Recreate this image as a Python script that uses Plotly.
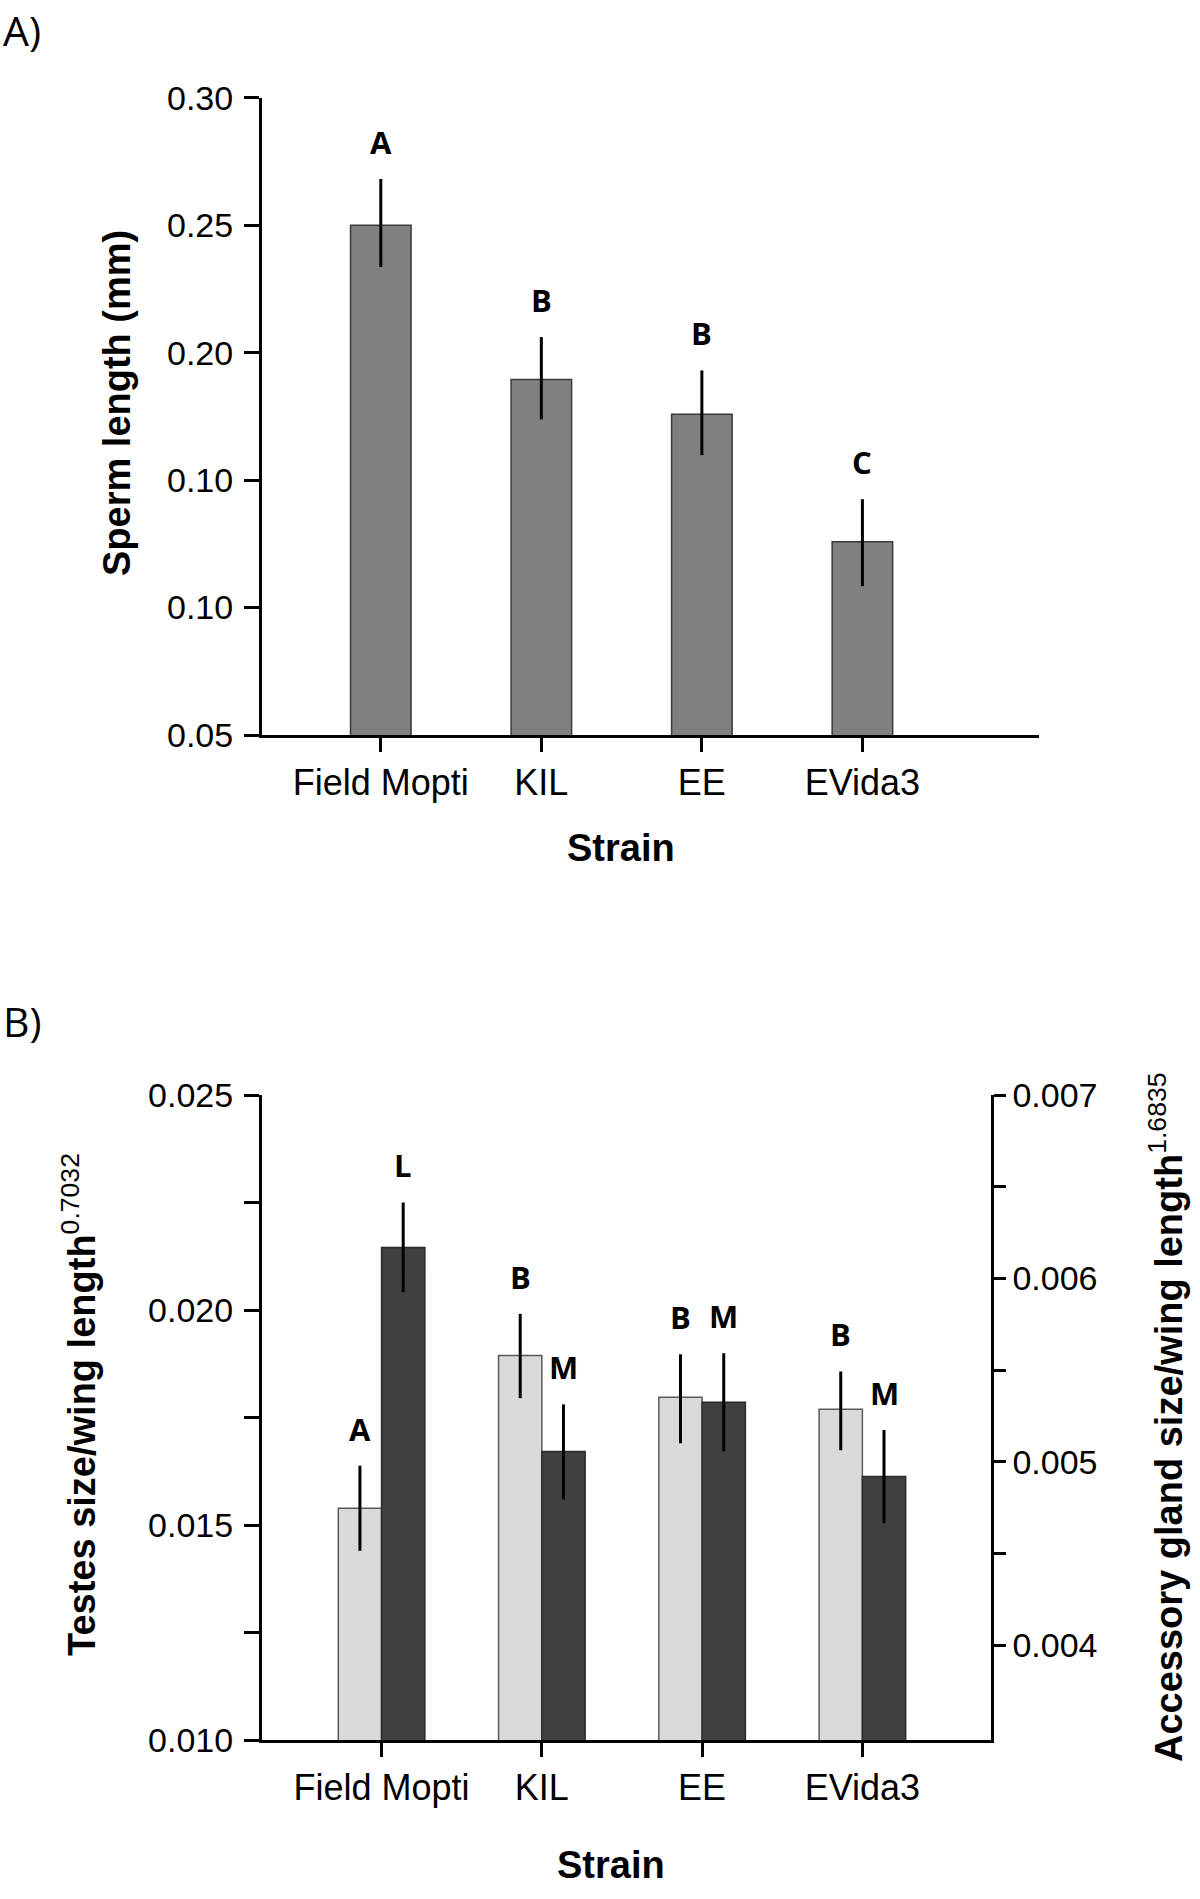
import plotly.graph_objects as go

# ---------------- data ----------------
strains = ["Field Mopti", "KIL", "EE", "EVida3"]

sperm_mean = [0.2500, 0.1895, 0.1758, 0.1258]
sperm_upper = [0.2681, 0.2061, 0.1930, 0.1425]
sperm_lower = [0.2336, 0.1738, 0.1598, 0.1084]
sperm_letters = ["A", "B", "B", "C"]
sperm_tickvals = [0.05, 0.10, 0.15, 0.20, 0.25, 0.30]
sperm_ticktext = ["0.05", "0.10", "0.10", "0.20", "0.25", "0.30"]

testes_mean = [0.01539, 0.01894, 0.01797, 0.01769]
testes_upper = [0.01638, 0.01991, 0.01897, 0.01857]
testes_lower = [0.01440, 0.01795, 0.01690, 0.01674]
testes_letters = ["A", "B", "B", "B"]
testes_tickvals = [0.010, 0.015, 0.020, 0.025]
testes_ticktext = ["0.010", "0.015", "0.020", "0.025"]
testes_minor_tickvals = [0.0125, 0.0175, 0.0225]

gland_mean = [0.006169, 0.005056, 0.005325, 0.004920]
gland_upper = [0.006414, 0.005313, 0.005592, 0.005174]
gland_lower = [0.005925, 0.004795, 0.005057, 0.004665]
gland_letters = ["L", "M", "M", "M"]
gland_tickvals = [0.004, 0.005, 0.006, 0.007]
gland_ticktext = ["0.004", "0.005", "0.006", "0.007"]
gland_minor_tickvals = [0.0045, 0.0055, 0.0065]

# ---------------- style ----------------
W, H = 1200, 1899
TICK_FONT = dict(family="Liberation Sans, Arial, sans-serif", size=34, color="black")
XTICK_FONT = dict(family="Liberation Sans, Arial, sans-serif", size=36, color="black")
TITLE_FONT = dict(family="Liberation Sans, Arial, sans-serif", size=38, color="black", weight="bold")
LETTER_FONT = dict(family="Open Sans, sans-serif", size=31, color="black", weight="bold")
PANEL_FONT = dict(family="Open Sans, sans-serif", size=41, color="black")
BAR_W_A = 0.377
BAR_W_B = 0.27
LETTER_SHIFT = 37

def px_x(p):
    return p / W

def px_y(p):
    return (H - p) / H

pos = list(range(len(strains)))

def err(upper, mean):
    return [u - m for u, m in zip(upper, mean)]

def errm(lower, mean):
    return [m - l for l, m in zip(lower, mean)]

fig = go.Figure()

# Panel A
fig.add_trace(go.Bar(
    x=pos, y=sperm_mean, width=BAR_W_A, xaxis="x", yaxis="y",
    marker=dict(color="#808080", line=dict(color="#3a3a3a", width=1.5)),
    error_y=dict(type="data", symmetric=False, array=err(sperm_upper, sperm_mean),
                 arrayminus=errm(sperm_lower, sperm_mean), color="black", thickness=3, width=0),
    showlegend=False,
))

# Panel B - testes (left axis)
fig.add_trace(go.Bar(
    x=pos, y=testes_mean, width=BAR_W_B, offset=-BAR_W_B, xaxis="x2", yaxis="y2",
    marker=dict(color="#d9d9d9", line=dict(color="#5a5a5a", width=1.5)),
    error_y=dict(type="data", symmetric=False, array=err(testes_upper, testes_mean),
                 arrayminus=errm(testes_lower, testes_mean), color="black", thickness=3, width=0),
    showlegend=False,
))
# Panel B - accessory gland (right axis)
fig.add_trace(go.Bar(
    x=pos, y=gland_mean, width=BAR_W_B, offset=0, xaxis="x2", yaxis="y3",
    marker=dict(color="#404040", line=dict(color="#2a2a2a", width=1.5)),
    error_y=dict(type="data", symmetric=False, array=err(gland_upper, gland_mean),
                 arrayminus=errm(gland_lower, gland_mean), color="black", thickness=3, width=0),
    showlegend=False,
))

axis_common = dict(showline=True, linewidth=3, linecolor="black", ticks="outside",
                   tickwidth=3, tickcolor="black", showgrid=False, zeroline=False,
                   automargin=False)

fig.update_layout(
    width=W, height=H, margin=dict(l=0, r=0, t=0, b=0, pad=0, autoexpand=False),
    paper_bgcolor="white", plot_bgcolor="white",
    xaxis=dict(domain=[px_x(262), px_x(1039)], range=[-0.74, 4.10], anchor="y",
               tickvals=pos, ticktext=strains, ticklen=14, ticklabelstandoff=0,
               tickfont=XTICK_FONT, **axis_common),
    yaxis=dict(domain=[px_y(735), px_y(97.7)], range=[0.05, 0.30], anchor="x",
               tickvals=sperm_tickvals, ticktext=sperm_ticktext, ticklen=15,
               ticklabelstandoff=4, tickfont=TICK_FONT, **axis_common),
    xaxis2=dict(domain=[px_x(262), px_x(990.6)], range=[-0.746, 3.80], anchor="y2",
                tickvals=pos, ticktext=strains, ticklen=14, ticklabelstandoff=0,
                tickfont=XTICK_FONT, **axis_common),
    yaxis2=dict(domain=[px_y(1740), px_y(1095)], range=[0.010, 0.025], anchor="x2",
                tickvals=testes_tickvals, ticktext=testes_ticktext, ticklen=15,
                ticklabelstandoff=4, tickfont=TICK_FONT,
                minor=dict(tickmode="array", tickvals=testes_minor_tickvals, ticks="outside",
                           ticklen=15, tickwidth=3, tickcolor="black", showgrid=False),
                **axis_common),
    yaxis3=dict(range=[0.003483, 0.007], anchor="x2", overlaying="y2", side="right",
                tickvals=gland_tickvals, ticktext=gland_ticktext, ticklen=12,
                ticklabelstandoff=0, tickfont=TICK_FONT,
                minor=dict(tickmode="array", tickvals=gland_minor_tickvals, ticks="outside",
                           ticklen=12, tickwidth=3, tickcolor="black", showgrid=False),
                **axis_common),
)

ann = []
# significance letters
for i in pos:
    ann.append(dict(x=pos[i], y=sperm_upper[i], xref="x", yref="y", text=sperm_letters[i],
                    showarrow=False, yshift=LETTER_SHIFT, yanchor="middle", font=LETTER_FONT))
    ann.append(dict(x=pos[i] - BAR_W_B / 2, y=testes_upper[i], xref="x2", yref="y2",
                    text=testes_letters[i], showarrow=False, yshift=LETTER_SHIFT,
                    yanchor="middle", font=LETTER_FONT))
    ann.append(dict(x=pos[i] + BAR_W_B / 2, y=gland_upper[i], xref="x2", yref="y3",
                    text=gland_letters[i], showarrow=False, yshift=LETTER_SHIFT,
                    yanchor="middle", font=LETTER_FONT))

# axis titles and panel labels
ann += [
    dict(x=px_x(117), y=px_y(403), xref="paper", yref="paper", text="Sperm length (mm)",
         textangle=-90, showarrow=False, xanchor="center", yanchor="middle", font=TITLE_FONT),
    dict(x=px_x(621), y=px_y(848), xref="paper", yref="paper", text="Strain",
         showarrow=False, xanchor="center", yanchor="middle", font=TITLE_FONT),
    dict(x=px_x(79), y=px_y(1405), xref="paper", yref="paper",
         text="Testes size/wing length<sup><span style='font-weight:normal'>0.7032</span></sup>",
         textangle=-90, showarrow=False, xanchor="center", yanchor="middle", font=TITLE_FONT),
    dict(x=px_x(1166), y=px_y(1417), xref="paper", yref="paper",
         text="Accessory gland size/wing length<sup><span style='font-weight:normal'>1.6835</span></sup>",
         textangle=-90, showarrow=False, xanchor="center", yanchor="middle", font=TITLE_FONT),
    dict(x=px_x(611), y=px_y(1865), xref="paper", yref="paper", text="Strain",
         showarrow=False, xanchor="center", yanchor="middle", font=TITLE_FONT),
    dict(x=px_x(1), y=px_y(0), xref="paper", yref="paper", text="A)", showarrow=False,
         xanchor="left", yanchor="top", font=PANEL_FONT),
    dict(x=px_x(1), y=px_y(1021), xref="paper", yref="paper", text="B)", showarrow=False,
         xanchor="left", yanchor="middle", font=PANEL_FONT),
]
fig.update_layout(annotations=ann)

fig.write_html("out.html", config={"displayModeBar": False},
               post_script="document.body.style.margin='0px';")
